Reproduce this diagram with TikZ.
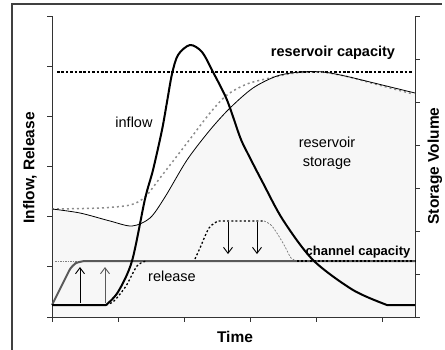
\documentclass[tikz,border=0pt]{standalone}
\usepackage{fontspec}
\setmainfont{Liberation Sans}
\usetikzlibrary{arrows.meta}

\tikzset{
	lbl/.style={inner sep=0pt, font=\fontsize{14.5}{18}\selectfont},
	axislbl/.style={inner sep=0pt, font=\fontsize{15.5}{18}\selectfont\bfseries},
	flowarrow/.style={line width=0.9pt, -{Straight Barb[length=6pt,width=9pt]}},
}

\begin{document}
\begin{tikzpicture}[x=1pt, y=-1pt]
	\useasboundingbox (0,0) rectangle (445,349);

	% frame
	\draw[line width=1.2pt, black!75] (12,350)--(12,4)--(442,4);

	% storage area
	\fill[black!3] (52,317)--plot[smooth] coordinates {(52,209) (80,213) (110,221) (132,226) (150,218) (165,197) (187,160) (210,130) (230,108) (253,88) (277,76) (300,72) (323,72) (345,76) (370,82) (415,93)}--(415,317)--cycle;

	% axes
	\draw[line width=0.9pt, black!80] (52,16)--(52,317)--(415,317)--(415,16);
	\foreach \k in {0,...,6}
		\draw[line width=0.8pt, black!80] (47,16+50.17*\k)--(52,16+50.17*\k);
	\foreach \k in {0,...,7}
		\draw[line width=0.8pt, black!80] (415,16+43*\k)--(420,16+43*\k);
	\foreach \k in {0,...,5}
		\draw[line width=0.8pt, black!80] (52+66*\k,317)--(52+66*\k,322);

	% channel capacity
	\draw[black!50, line width=0.7pt, dash pattern=on 1.5pt off 1pt] (55,261)--(415,261);

	% reservoir capacity
	\draw[line width=2.6pt, dash pattern=on 2.6pt off 1.8pt] (57,72)--(413,72);

	% storage, no control
	\draw[black!45, line width=1.5pt, dash pattern=on 2pt off 3pt] plot[smooth] coordinates {(52,209) (100,208) (130,205) (145,197) (160,178) (187,143) (210,113) (227,95) (247,84) (270,78) (295,73) (320,72) (345,76) (375,84) (413,94)};

	% storage
	\draw[line width=0.8pt] plot[smooth] coordinates {(52,209) (80,213) (110,221) (132,226) (150,218) (165,197) (187,160) (210,130) (230,108) (253,88) (277,76) (300,72) (323,72) (345,76) (370,82) (415,93)};

	% release
	\draw[black!65, line width=2pt, rounded corners=6pt] (52,305)--(72,265)--(80,261)--(415,261);

	% release without storage
	\draw[line width=1.3pt, dash pattern=on 2pt off 2.2pt] (52,305)--(106,305);
	\draw[line width=1.3pt, dash pattern=on 2pt off 2.2pt] plot[smooth] coordinates {(106,305) (114,301) (126,286) (137,266) (146,261)};
	\draw[line width=1.3pt, dash pattern=on 2pt off 2.2pt] plot[smooth] coordinates {(195,259) (200,248) (209,228) (218,221)}--(264,221);
	\draw[black!55, line width=0.7pt, dash pattern=on 2pt off 1.5pt] plot[smooth] coordinates {(264,221) (272,226) (283,243) (291,258) (297,261)};
	\draw[line width=1.3pt, dash pattern=on 2pt off 2.2pt] (297,261)--(415,261);

	% inflow
	\draw[line width=2pt, line join=round] (52,305)--(106,305) plot[smooth] coordinates {(106,305) (118,292) (132,261) (145,199) (153,170) (162,130) (167,102) (172,74) (178,55) (190,45) (202,52) (213,72) (227,100) (240,137) (247,152) (263,183) (283,220) (313,260) (353,290) (387,305)}--(415,305);

	% arrows
	\coordinate (up1a) at (80,303);
	\coordinate (up1b) at (80,267);
	\coordinate (up2a) at (105,303);
	\coordinate (up2b) at (105,267);
	\coordinate (dn1a) at (228,222);
	\coordinate (dn1b) at (228,254);
	\coordinate (dn2a) at (257,222);
	\coordinate (dn2b) at (257,254);
	\draw[flowarrow] (up1a)--(up1b);
	\draw[flowarrow, black!65] (up2a)--(up2b);
	\draw[flowarrow] (dn1a)--(dn1b);
	\draw[flowarrow] (dn2a)--(dn2b);

	% labels
	\node[lbl] (inflow) at (134,122) {inflow};
	\node[lbl, align=center, font=\fontsize{14.5}{19}\selectfont] (storage) at (327,153) {reservoir\\storage};
	\node[lbl] (release) at (172,276) {release};
	\node[lbl, font=\fontsize{14.5}{18}\selectfont\bfseries] (rescap) at (333,53) {reservoir capacity};
	\node[lbl, font=\fontsize{13}{16}\selectfont\bfseries] (chancap) at (358,252) {channel capacity};

	\node[axislbl] (time) at (235,337) {Time};
	\node[axislbl, rotate=90] (ylbl) at (30,168) {Inflow, Release};
	\node[axislbl, rotate=90] (y2lbl) at (435,166) {Storage Volume};
\end{tikzpicture}
\end{document}
